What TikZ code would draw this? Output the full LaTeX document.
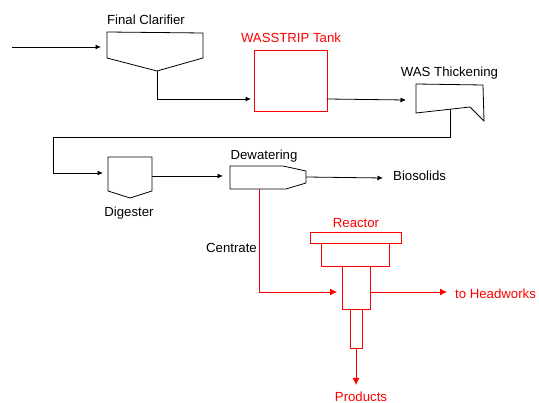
\documentclass[tikz,border=0pt]{standalone}
\usepackage{fontspec}
\setmainfont{Liberation Sans}
\usetikzlibrary{arrows.meta,calc}
\begin{document}
\begin{tikzpicture}[x=1pt,y=-1pt,
  lbl/.style={font=\fontsize{13.2}{15}\selectfont, inner sep=0pt},
  rlbl/.style={lbl, text=red},
  unit/.style={draw=black, line width=0.8pt, line join=miter},
  runit/.style={draw=red, line width=0.8pt, rectangle, inner sep=0pt},
  flow/.style={draw=black, line width=0.8pt, -{Latex[length=5.5pt,width=5pt]}},
  rflow/.style={draw=red, line width=0.8pt, -{Latex[length=7pt,width=7pt]}},
]
\useasboundingbox (0,0) rectangle (539,403);

% Final clarifier
\draw[unit] (107,32) -- (203,33) -- (203,58) -- (157,71) -- (107,58) -- cycle;
\coordinate (fcW) at (101,47);
\coordinate (fcB) at (157,71);
\node[lbl, anchor=base] (fcl) at (146,25) {Final Clarifier};
\coordinate (feed) at (12,47);

% WASSTRIP tank
\node[runit, minimum width=73pt, minimum height=61pt] (ws) at (290.5,80.5) {};
\node[rlbl, anchor=base] (wsl) at (291,42.5) {WASSTRIP Tank};
\coordinate (wsIn) at (251,99);
\coordinate (wsOut) at (327,99);

% WAS thickening
\draw[unit] (416,84) -- (483,85) -- (484,121) -- (470,107) -- (416,113) -- cycle;
\node[lbl, anchor=base] (wtl) at (449.5,77) {WAS Thickening};
\coordinate (wtIn) at (406,100);
\coordinate (wtB) at (450,109.5);
\coordinate (bendA) at (53,137);

% Digester
\draw[unit] (108,157) -- (152,157) -- (152,191) -- (130,198) -- (108,191) -- cycle;
\node[lbl, anchor=base] (dgl) at (129,216.5) {Digester};
\coordinate (dgIn) at (103,173);
\coordinate (dgOut) at (152,176);

% Dewatering
\draw[unit] (230,166) -- (283,166) -- (306,171) -- (306,183) -- (286,189) -- (230,189) -- cycle;
\node[lbl, anchor=base] (dwl) at (264,160) {Dewatering};
\coordinate (dwIn) at (223,176);
\coordinate (dwOut) at (306,177);
\coordinate (dwB) at (259,189);
\node[lbl, anchor=base west] (bio) at (393,181) {Biosolids};
\coordinate (bioT) at (383,178);

% Reactor
\node[runit, minimum width=91pt, minimum height=11pt] (r1) at (355.5,237.5) {};
\node[runit, minimum width=68pt, minimum height=23pt] (r2) at (355,254.5) {};
\node[runit, minimum width=28pt, minimum height=43pt] (r3) at (356,287.5) {};
\node[runit, minimum width=12pt, minimum height=39pt] (r4) at (356,328.5) {};
\node[rlbl, anchor=base] (rl) at (356,227.3) {Reactor};
\coordinate (rIn) at (337,292);
\coordinate (rOut) at (370,292);
\node[lbl, anchor=base east] (cen) at (257,252.3) {Centrate};
\node[rlbl, anchor=base west] (hw) at (455,298.3) {to Headworks};
\coordinate (hwT) at (447,292);
\node[rlbl, anchor=base] (prod) at (361,401.5) {Products};
\coordinate (prT) at (356,385);

% Connectors
\draw[flow] (feed) -- (fcW);
\draw[flow] (fcB) |- (wsIn);
\draw[flow] (wsOut) -- (wtIn);
\draw[flow] (wtB) |- (bendA) |- (dgIn);
\draw[flow] (dgOut) -- (dwIn);
\draw[flow] (dwOut) -- (bioT);
\draw[rflow] (dwB) |- (rIn);
\draw[rflow] (rOut) -- (hwT);
\draw[rflow] (r4.south) -- (prT);
\end{tikzpicture}
\end{document}
